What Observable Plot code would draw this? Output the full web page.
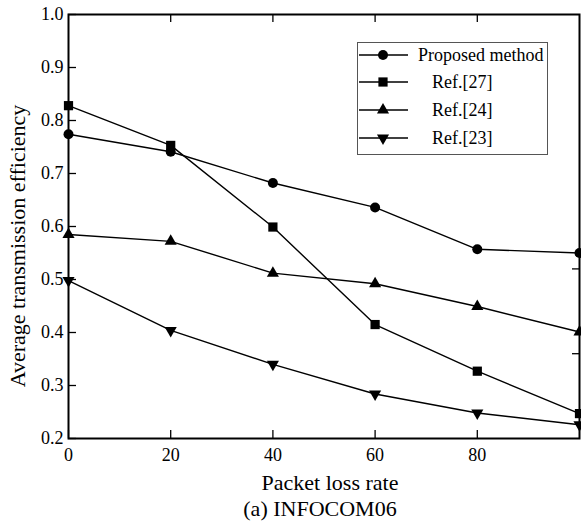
<!DOCTYPE html>
<html>
<head>
<meta charset="utf-8">
<script src="https://cdn.jsdelivr.net/npm/d3@7"></script>
<script src="https://cdn.jsdelivr.net/npm/@observablehq/plot@0.6"></script>
<style>
  html, body { margin: 0; padding: 0; background: #fff; }
  svg { display: block; }
  svg text { font-family: "Liberation Serif", "Times New Roman", serif !important; }
</style>
</head>
<body>
<div id="chart"></div>
<script>
const xValues = [0, 20, 40, 60, 80, 100];
const seriesNames = ["Proposed method", "Ref.[27]", "Ref.[24]", "Ref.[23]"];
const proposed = [0.774, 0.741, 0.682, 0.636, 0.557, 0.550];
const ref27 = [0.828, 0.753, 0.599, 0.415, 0.327, 0.247];
const ref24 = [0.585, 0.572, 0.512, 0.492, 0.449, 0.401];
const ref23 = [0.498, 0.404, 0.340, 0.284, 0.248, 0.226];
const xTicks = [0, 20, 40, 60, 80];
const yTicks = [0.2, 0.3, 0.4, 0.5, 0.6, 0.7, 0.8, 0.9, 1.0];
const yTicksRight = [0.36, 0.52];
const xTicksTop = [20, 40, 60, 80];
const xLabel = "Packet loss rate";
const yLabel = "Average transmission efficiency";
const caption = "(a) INFOCOM06";

const seriesValues = [proposed, ref27, ref24, ref23];
const data = [];
seriesNames.forEach((s, i) => xValues.forEach((x, j) => data.push({series: s, x, y: seriesValues[i][j]})));

const downTriangle = {
  draw(ctx, size) {
    const y = Math.sqrt(size / (3 * Math.sqrt(3)));
    ctx.moveTo(0, 2 * y);
    ctx.lineTo(-Math.sqrt(3) * y, -y);
    ctx.lineTo(Math.sqrt(3) * y, -y);
    ctx.closePath();
  }
};
const symbols = ["circle", "square", "triangle", downTriangle];
const d3Symbols = [d3.symbolCircle, d3.symbolSquare, d3.symbolTriangle, downTriangle];
const radii = [5, 5.2, 4.5, 4.5];

const W = 581, H = 525, mL = 68, mR = 2, mT = 14, mB = 87;
const fw = W - mL - mR, fh = H - mT - mB;
const FONT = "'Liberation Serif', 'Times New Roman', serif";

const marks = [
  Plot.line(data, {x: "x", y: "y", z: "series", stroke: "black", strokeWidth: 1.4}),
  ...seriesNames.map((s, i) => Plot.dot(data.filter(d => d.series === s), {
    x: "x", y: "y", symbol: () => symbols[i], fill: "black", stroke: "none", r: radii[i]
  })),
  Plot.tickX(xTicks, {x: d => d, insetTop: fh - 8, stroke: "black", strokeWidth: 1.3}),
  Plot.tickX(xTicksTop, {x: d => d, insetBottom: fh - 8, stroke: "black", strokeWidth: 1.3}),
  Plot.tickY(yTicks, {y: d => d, insetRight: fw - 8, stroke: "black", strokeWidth: 1.3}),
  Plot.tickY(yTicksRight, {y: d => d, insetLeft: fw - 7, stroke: "black", strokeWidth: 1.3}),
  Plot.frame({stroke: "black", strokeWidth: 2}),
  Plot.axisX({ticks: xTicks, tickSize: 0, tickPadding: 10, tickFormat: d => String(d), fontSize: 18, label: null}),
  Plot.axisY({ticks: yTicks, tickSize: 0, tickPadding: 5, tickFormat: d3.format(".1f"), fontSize: 18, label: null})
];

const chart = Plot.plot({
  width: W, height: H,
  marginLeft: mL, marginRight: mR, marginTop: mT, marginBottom: mB,
  x: {domain: [0, 100], axis: null},
  y: {domain: [0.2, 1.0], axis: null},
  symbol: {type: "identity"},
  style: {fontFamily: FONT, fontSize: "18px", color: "black", background: "white"},
  marks
});

const svg = d3.select(chart);

// axis labels
svg.append("text")
  .attr("x", 330).attr("y", 490)
  .attr("text-anchor", "middle")
  .attr("font-size", 22).attr("fill", "black")
  .text(xLabel);
svg.append("text")
  .attr("transform", "translate(25,246) rotate(-90)")
  .attr("text-anchor", "middle")
  .attr("font-size", 22).attr("fill", "black")
  .text(yLabel);
svg.append("text")
  .attr("x", 320).attr("y", 516)
  .attr("text-anchor", "middle")
  .attr("font-size", 22).attr("fill", "black")
  .text(caption);

// legend
const lg = svg.append("g").attr("font-size", 18);
lg.append("rect").attr("x", 357.5).attr("y", 42.5).attr("width", 190).attr("height", 112)
  .attr("fill", "white").attr("stroke", "#555").attr("stroke-width", 1);
const rowY = [55, 82, 110, 138];
const textX = [418, 432, 432, 432];
seriesNames.forEach((s, i) => {
  const g = lg.append("g").attr("transform", `translate(0,${rowY[i]})`);
  g.append("line").attr("x1", 359).attr("x2", 408).attr("y1", 0).attr("y2", 0)
    .attr("stroke", "black").attr("stroke-width", 1.4);
  g.append("path").attr("transform", "translate(383,0)")
    .attr("d", d3.symbol(d3Symbols[i], Math.PI * radii[i] * radii[i])())
    .attr("fill", "black");
  g.append("text").attr("x", textX[i]).attr("y", 0).attr("dy", "0.35em")
    .attr("text-anchor", "start").attr("fill", "black").text(s);
});

svg.selectAll("text").attr("fill", "black").style("font-family", FONT);

document.getElementById("chart").appendChild(chart);
</script>
</body>
</html>
